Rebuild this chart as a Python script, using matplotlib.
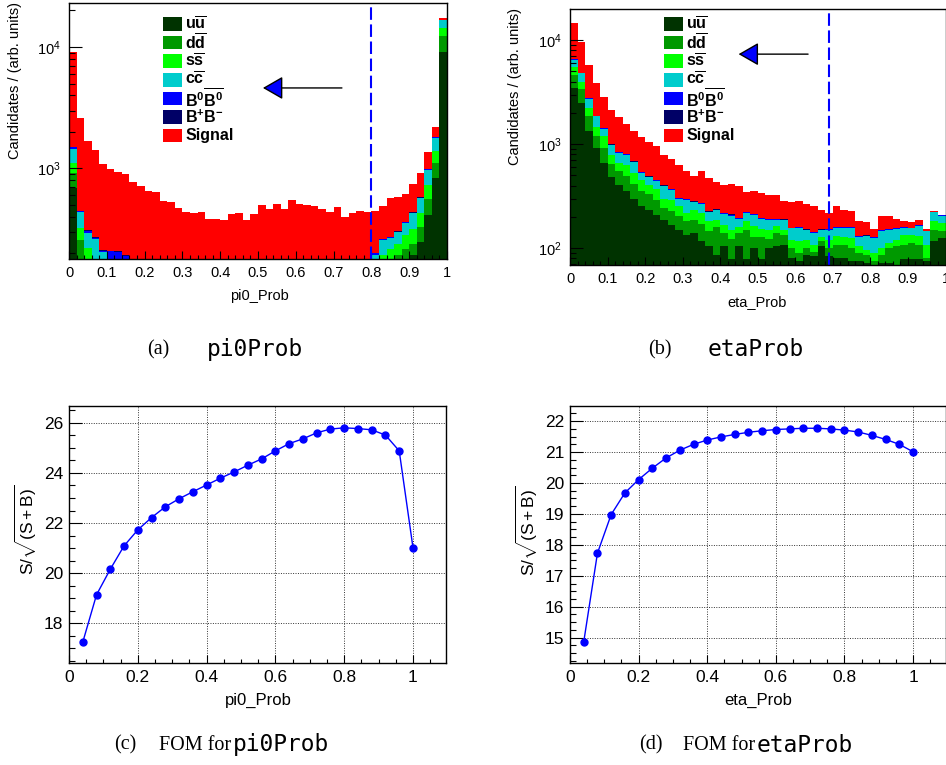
import numpy as np
import matplotlib
matplotlib.use("Agg")
import matplotlib.pyplot as plt
from matplotlib.patches import Rectangle
from matplotlib.ticker import (MultipleLocator, LogLocator, FuncFormatter,
                               NullFormatter, LogFormatterMathtext)

plt.rcParams['font.family'] = ['Liberation Sans', 'DejaVu Sans']
plt.rcParams['mathtext.fontset'] = 'custom'
plt.rcParams['mathtext.rm'] = 'Liberation Sans'
plt.rcParams['mathtext.bf'] = 'Liberation Sans:bold'
plt.rcParams['mathtext.it'] = 'Liberation Sans:italic'
plt.rcParams['mathtext.sf'] = 'Liberation Sans'

# ---------------------------------------------------------------- data
bin_edges = np.linspace(0.0, 1.0, 51)

# pi0_Prob: per-sample candidate counts (50 bins of 0.02)
uu_pi0 = [687, 150, 90, 60, 45, 40, 35, 30,
          28, 27, 25, 24, 23, 22, 21, 20, 20, 19, 19, 18, 18, 18, 18, 19,
          19, 20, 20, 21, 22, 23, 24, 26, 28, 30, 33, 36, 40, 44, 49, 54,
          60, 75, 95, 130, 160, 194, 247, 414, 840, 9155]
dd_pi0 = [225, 108, 70, 50, 40, 35, 30, 25,
          22, 21, 20, 19, 18, 17, 16, 16, 15, 15, 14, 14, 14, 14, 14, 14,
          15, 15, 15, 16, 16, 17, 18, 19, 20, 21, 23, 25, 27, 29, 32, 36,
          40, 45, 55, 64, 56, 46, 85, 147, 263, 3165]
ss_pi0 = [191, 68, 60, 50, 40, 30, 25, 20,
          18, 17, 16, 15, 14, 14, 13, 13, 12, 12, 12, 12, 12, 12, 12, 12,
          12, 13, 13, 13, 14, 14, 15, 16, 17, 18, 19, 21, 23, 25, 28, 31,
          40, 74, 66, 45, 68, 80, 96, 171, 290, 1920]
cc_pi0 = [344, 110, 72, 103, 80, 70, 60, 45,
          38, 34, 30, 27, 25, 23, 21, 20, 19, 18, 17, 17, 16, 16, 16, 16,
          16, 17, 17, 18, 18, 19, 20, 21, 22, 24, 26, 28, 30, 33, 36, 40,
          54, 64, 54, 59, 74, 108, 140, 240, 401, 2450]
b0_pi0 = [47, 8, 16, 7, 6, 34, 56, 72,
          50, 40, 32, 26, 20, 16, 13, 11, 10, 9, 8, 8, 7, 7, 7, 7,
          7, 7, 7, 7, 7, 7, 8, 8, 8, 8, 8, 9, 9, 9, 10, 10,
          6, 4, 3, 4, 5, 6, 8, 12, 15, 40]
bp_pi0 = [19, 3, 4, 2, 2, 2, 2, 2,
          2, 2, 2, 2, 2, 2, 2, 2, 2, 2, 2, 2, 2, 2, 2, 2,
          2, 2, 2, 2, 2, 2, 2, 2, 2, 2, 2, 2, 2, 2, 2, 2,
          2, 2, 2, 2, 2, 2, 3, 4, 6, 20]
sig_pi0 = [7527, 2143, 1373, 1148, 877, 779, 732, 706, 622, 579,
           530, 524, 438, 433, 384, 354, 350, 361, 310, 311,
           306, 356, 364, 307, 354, 423, 387, 433, 388, 465,
           420, 405, 397, 364, 325, 358, 271, 286, 287, 268,
           245, 230, 293, 282, 248, 305, 333, 387, 395, 580]

# eta_Prob: per-sample candidate counts (50 bins of 0.02)
uu_eta = [3452, 2479, 1345, 917, 658, 483, 408, 352, 299, 253,
          235, 210, 188, 168, 151, 135, 140, 117, 104, 87,
          104, 78, 104, 78, 101, 78, 101, 104, 107, 81,
          75, 87, 84, 104, 84, 81, 81, 75, 75, 72,
          68, 72, 72, 65, 78, 78, 78, 75, 117, 125]
dd_eta = [1182, 898, 501, 287, 259, 165, 139, 138, 115, 99,
          97, 83, 55, 62, 52, 46, 48, 55, 41, 72,
          36, 46, 36, 73, 27, 49, 22, 36, 28, 20,
          15, 14, 9, 13, 17, 26, 27, 26, 15, 15,
          7, 15, 29, 39, 30, 34, 30, 6, 34, 20]
ss_eta = [938, 622, 373, 243, 269, 143, 111, 144, 114, 103,
          76, 80, 56, 63, 50, 37, 47, 46, 36, 29,
          28, 25, 19, 30, 34, 27, 28, 22, 16, 20,
          27, 20, 15, 11, 20, 23, 20, 24, 14, 10,
          15, 14, 11, 17, 27, 23, 22, 27, 30, 30]
cc_eta = [885, 810, 488, 399, 219, 181, 163, 157, 140, 73,
          71, 72, 94, 72, 44, 75, 41, 50, 40, 43,
          45, 57, 33, 37, 48, 38, 37, 26, 34, 34,
          40, 28, 32, 21, 30, 27, 29, 32, 24, 33,
          35, 46, 39, 32, 22, 20, 35, 37, 40, 31]
b0_eta = [70, 50, 40, 25, 20, 15, 12, 12, 10, 9,
          8, 8, 7, 6, 5, 5, 5, 4, 4, 4,
          4, 4, 3, 3, 3, 3, 3, 3, 3, 2,
          2, 2, 2, 2, 2, 2, 2, 2, 2, 2,
          2, 2, 2, 2, 2, 2, 2, 2, 3, 2]
bp_eta = [25, 20, 15, 10, 8, 6, 5, 5, 4, 4,
          3, 3, 3, 2, 2, 2, 2, 2, 2, 2,
          2, 2, 2, 2, 2, 1, 1, 1, 1, 1,
          1, 1, 1, 1, 1, 1, 1, 1, 1, 1,
          1, 1, 1, 1, 1, 1, 1, 1, 1, 1]
sig_eta = [7968, 4661, 3018, 1979, 1437, 1117, 982, 762, 663, 629,
           557, 495, 388, 351, 321, 247, 207, 273, 245, 192,
           189, 202, 196, 121, 137, 143, 135, 130, 97, 118,
           122, 114, 110, 83, 64, 96, 75, 66, 50, 46,
           25, 53, 52, 36, 21, 19, 20, 6, 5, 1]

sample_labels = [r'$\mathbf{u\overline{u}}$', r'$\mathbf{d\overline{d}}$',
                 r'$\mathbf{s\overline{s}}$', r'$\mathbf{c\overline{c}}$',
                 r'$\mathbf{B^0\overline{B^0}}$', r'$\mathbf{B^{+}B^{-}}$',
                 'Signal']
sample_colors = ['#003300', '#009900', '#00ff00', '#00cccc',
                 '#0000ff', '#000066', '#ff0000']

# figure of merit S/sqrt(S+B) versus the cut value
cut_values = [0.04, 0.08, 0.12, 0.16, 0.20, 0.24, 0.28, 0.32, 0.36, 0.40,
              0.44, 0.48, 0.52, 0.56, 0.60, 0.64, 0.68, 0.72, 0.76, 0.80,
              0.84, 0.88, 0.92, 0.96, 1.00]
fom_pi0 = [17.25, 19.14, 20.16, 21.09, 21.73, 22.22, 22.65, 22.97, 23.25,
           23.52, 23.79, 24.04, 24.31, 24.56, 24.88, 25.17, 25.36, 25.60,
           25.75, 25.80, 25.77, 25.72, 25.51, 24.88, 21.02]
fom_eta = [14.86, 17.73, 18.98, 19.68, 20.11, 20.48, 20.81, 21.06, 21.25,
           21.39, 21.49, 21.57, 21.64, 21.69, 21.73, 21.75, 21.77, 21.77,
           21.75, 21.71, 21.65, 21.54, 21.41, 21.25, 21.01]

cut_pi0 = 0.80
cut_eta = 0.69

# ---------------------------------------------------------------- layout
W, H = 946, 765
fig = plt.figure(figsize=(W / 100, H / 100), dpi=100)


def axes_px(left, top, right, bottom):
    return fig.add_axes([left / W, 1 - bottom / H, (right - left) / W,
                         (bottom - top) / H])


def fx(px):
    return px / W


def fy(py):
    return 1 - py / H


fmt_g = FuncFormatter(lambda v, p: f'{v:g}')


def style_frame(ax):
    for s in ax.spines.values():
        s.set_linewidth(1.0)
    ax.tick_params(which='both', direction='in', top=False, right=False,
                   width=0.8)


def draw_hist(ax, comps, cut, ylim, arrow, legend_x, ylab_x, ylab_top,
              xlabel, xlab_xy):
    cum = np.cumsum(np.array(comps, dtype=float), axis=0)
    for k in range(len(comps) - 1, -1, -1):
        ax.stairs(cum[k], bin_edges, baseline=1.0, fill=True,
                  color=sample_colors[k], lw=0)
    ax.set_yscale('log')
    ax.set_xlim(0, 1)
    ax.set_ylim(*ylim)
    ax.yaxis.set_major_locator(LogLocator(base=10))
    ax.yaxis.set_minor_locator(LogLocator(base=10, subs=np.arange(2, 10)))
    ax.yaxis.set_major_formatter(LogFormatterMathtext())
    ax.yaxis.set_minor_formatter(NullFormatter())
    ax.xaxis.set_major_locator(MultipleLocator(0.1))
    ax.xaxis.set_minor_locator(MultipleLocator(0.02))
    ax.xaxis.set_major_formatter(fmt_g)
    style_frame(ax)
    ax.tick_params(axis='x', which='major', length=6, labelsize=10.5, pad=5)
    ax.tick_params(axis='x', which='minor', length=3)
    ax.tick_params(axis='y', which='major', length=9, labelsize=10.5, pad=6)
    ax.tick_params(axis='y', which='minor', length=4.5)

    ax.axvline(cut, color='#0000ff', lw=1.5, ls=(0, (6, 2.2)))

    tail, tip, yv = arrow
    ax.annotate('', xy=(tip, yv), xytext=(tail, yv),
                arrowprops=dict(arrowstyle='-|>,head_length=1.25,head_width=0.72',
                                fc='#0000ff', ec='black', lw=1.0,
                                shrinkA=0, shrinkB=0))

    # legend boxes
    for i, (lab, col) in enumerate(zip(sample_labels, sample_colors)):
        ytop = 17.3 + 18.6 * i
        fig.add_artist(Rectangle((fx(legend_x), fy(ytop + 13.4)),
                                 18.5 / W, 13.4 / H, transform=fig.transFigure,
                                 facecolor=col, edgecolor='none'))
        fig.text(fx(legend_x + 22), fy(ytop + 6.7), lab, fontsize=11.5,
                 fontweight='bold', va='center', ha='left')

    fig.text(fx(ylab_x), fy(ylab_top), 'Candidates / (arb. units)',
             rotation=90, ha='center', va='top', fontsize=10.5)
    fig.text(fx(xlab_xy[0]), fy(xlab_xy[1]), xlabel, ha='center',
             va='center', fontsize=10.5)


def draw_fom(ax, yvals, ylim, ymajor, yminor, xlabel, xlab_xy, ylab_xy):
    ax.plot(cut_values, yvals, '-o', color='#0000ff', lw=1.0, ms=5,
            mec='#0000ff', zorder=3)
    ax.set_xlim(0, 1.096)
    ax.set_ylim(*ylim)
    ax.xaxis.set_major_locator(MultipleLocator(0.2))
    ax.xaxis.set_minor_locator(MultipleLocator(0.05))
    ax.yaxis.set_major_locator(MultipleLocator(ymajor))
    ax.yaxis.set_minor_locator(MultipleLocator(yminor))
    ax.xaxis.set_major_formatter(fmt_g)
    ax.yaxis.set_major_formatter(fmt_g)
    ax.grid(True, which='major', ls=(0, (1, 1.5)), color='#333333', lw=0.7)
    style_frame(ax)
    ax.tick_params(axis='x', which='major', length=6, labelsize=12.5, pad=5)
    ax.tick_params(axis='x', which='minor', length=3)
    ax.tick_params(axis='y', which='major', length=9, labelsize=12.5, pad=4)
    ax.tick_params(axis='y', which='minor', length=4.5)
    fig.text(fx(xlab_xy[0]), fy(xlab_xy[1]), xlabel, ha='center',
             va='center', fontsize=12)
    fig.text(fx(ylab_xy[0]), fy(ylab_xy[1]), r'$\mathrm{S/\sqrt{(S+B)}}$',
             rotation=90, ha='center', va='center', fontsize=12.5)


ax_a = axes_px(69, 3, 447, 259)
draw_hist(ax_a, [uu_pi0, dd_pi0, ss_pi0, cc_pi0, b0_pi0, bp_pi0, sig_pi0],
          cut_pi0, (180, 23000), (0.722, 0.513, 4600), 163.3, 15, 2,
          'pi0_Prob', (259, 296))

ax_b = axes_px(570, 9, 945.5, 265)
draw_hist(ax_b, [uu_eta, dd_eta, ss_eta, cc_eta, b0_eta, bp_eta, sig_eta],
          cut_eta, (69, 19900), (0.634, 0.449, 7330), 664.3, 515, 8,
          'eta_Prob', (757, 302))

ax_c = axes_px(69, 406, 446, 663)
draw_fom(ax_c, fom_pi0, (16.42, 26.67), 2, 0.5, 'pi0_Prob', (258, 700),
         (26, 530))

ax_d = axes_px(570, 406, 946, 663)
draw_fom(ax_d, fom_eta, (14.18, 22.49), 1, 0.25, 'eta_Prob', (758, 700),
         (527, 531))

# sub-figure captions
cap_serif = dict(family=['Liberation Serif', 'DejaVu Serif'], fontsize=14.5,
                 va='center', ha='left')
cap_mono = dict(family=['DejaVu Sans Mono'], fontsize=16.5, va='center',
                ha='left')
fig.text(fx(147), fy(350), '(a)', **cap_serif)
fig.text(fx(207), fy(350), 'pi0Prob', **cap_mono)
fig.text(fx(648), fy(350), '(b)', **cap_serif)
fig.text(fx(708), fy(350), 'etaProb', **cap_mono)
fig.text(fx(114), fy(745), '(c)', **cap_serif)
fig.text(fx(159), fy(745), 'FOM for', **cap_serif)
fig.text(fx(233), fy(745), 'pi0Prob', **cap_mono)
fig.text(fx(639), fy(745), '(d)', **cap_serif)
fig.text(fx(683), fy(745), 'FOM for', **cap_serif)
fig.text(fx(757), fy(745), 'etaProb', **cap_mono)

fig.savefig('out.png', dpi=100)
